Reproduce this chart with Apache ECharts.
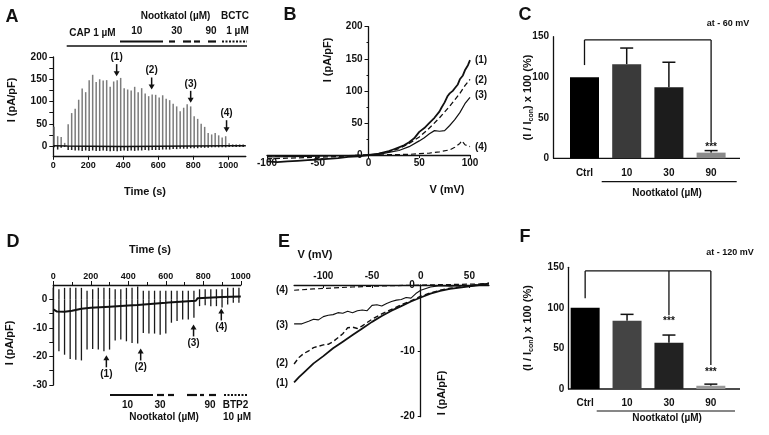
<!DOCTYPE html>
<html><head><meta charset="utf-8">
<script src="https://cdn.jsdelivr.net/npm/echarts@6/dist/echarts.min.js"></script>
<style>html,body{margin:0;padding:0;background:#fff}#c{width:769px;height:435px}</style>
</head><body><div id="c"></div>
<script>
const FONT = '"Liberation Sans", Arial, sans-serif';

// ---------- Panel A : TRPV1 current vs time ----------
const aTime = [5,25,45,65,85,105,125,145,165,185,205,225,245,265,285,305,325,345,365,385,405,425,445,465,485,505,525,545,565,585,605,625,645,665,685,705,725,745,765,785,805,825,845,865,885,905,925,945,965,985,1005,1025,1045,1065,1085];
const aPos = [43,22,20,7,49,74,84,104,129,121,148,160,144,150,147,148,133,145,148,153,130,127,125,133,121,130,118,112,116,115,109,114,106,103,95,89,78,86,94,89,67,61,50,43,29,26,29,24,19,22,6,4,4,4,4];
const aNeg = [-3,-8,-4,-2,-9,-9,-10,-10,-11,-10,-11,-10,-11,-11,-10,-11,-12,-11,-12,-11,-10,-11,-10,-11,-10,-10,-9,-10,-9,-9,-9,-8,-8,-8,-7,-7,-6,-6,-6,-5,-5,-5,-4,-4,-4,-3,-3,-3,-3,-3,-2,-2,-2,-2,-2];
const aBaseT = [0,80,200,400,600,800,1000,1100];
const aBaseI = [0.5,0,-0.5,-1,-0.5,0,0.5,0.5];
const aArrowT = [362,562,785,990];
const aArrowI = [157,127,97,31];
const arrowLabels = ['(1)','(2)','(3)','(4)'];
const aXTicks = [0,200,400,600,800,1000];
const aYTicks = [0,50,100,150,200];

// ---------- Panel B : I-V curves (TRPV1) ----------
const bV1 = [-100,-90,-80,-70,-60,-50,-40,-30,-20,-10,0,5,10,15,20,25,30,35,40,45,50,55,60,65,70,72,75,78,80,83,85,88,90,93,95,98,100];
const bI1 = [-10,-11,-10,-9,-8,-7,-6,-5,-3,-2,0,1,2,4,6,9,12,15,20,26,36,42,50,58,68,74,82,92,96,100,104,110,118,124,132,140,148];
const bV2 = [-100,-80,-60,-40,-20,0,10,20,30,40,50,60,70,80,90,95,100];
const bI2 = [-6,-5,-4,-3,-1.5,0,2,5,10,18,28,42,58,76,96,108,118];
const bV3 = [-100,-80,-60,-40,-20,0,10,20,30,40,50,55,60,65,70,75,80,85,90,95,100];
const bI3 = [-3,-2.5,-2,-1.5,-1,0,1,4,7,13,22,27,33,38,37,38,46,55,66,80,90];
const bV4 = [-100,-60,-20,0,20,40,50,60,70,80,85,90,92,95,100];
const bI4 = [-2,-1.5,-1,0,0.5,1,2,3,5,8,12,18,22,16,13];

// ---------- Panel C / F : normalized current ----------
const categories = ['Ctrl','10','30','90'];
const cMean = [100,116,87.5,7];
const cErr = [0,20,31,2.5];
const fMean = [100,84,57,4];
const fErr = [0,8,9.5,2];
const barColors = ['#000000','#3a3a3a','#1c1c1c','#8a8a8a'];
const fBarColors = ['#000000','#444444','#222222','#999999'];
// significance brackets (value levels)
const cBracketTop = 146, cCtrlStart = 115;
const cSigIdx = [3], cSigEnd = [20], cStarV = [14];
const fBracketTop = 145.5, fCtrlStart = 112;
const fSigIdx = [2,3], fSigEnd = [91,29.6], fStarV = [84,21];

// ---------- Panel D : Orai current vs time ----------
const dTime = [0,30,60,90,120,150,180,210,240,270,300,330,360,390,420,450,480,510,540,570,600,630,660,690,720,750,780,810,840,870,900,930,960,990];
const dBottom = [-15,-18.2,-19.4,-20.9,-21.2,-21.4,-17.6,-17.4,-17.6,-18.2,-17.6,-14.4,-14.1,-14.7,-15.3,-15.5,-11.8,-12,-12,-12.4,-12,-8.2,-7.6,-7.1,-7.1,-6.5,-2.4,-2.1,-2.4,-2.4,-2.9,-1.8,-1.2,-1.2];
const dTop = [4,3.5,4,4,4,4,3,3.5,4,4,4,3.5,3.5,4,4,4.5,3,3,3,3,3,3,3,3,3,3,3.5,3.5,3.5,3.5,3.5,4,4,4];
const dBaseT = [0,20,60,100,150,200,300,400,450,460,600,615,625,760,770,780,900,1000];
const dBaseI = [-3.5,-4.3,-4.4,-4.0,-3.3,-3.0,-2.6,-2.2,-2.0,-1.6,-1.2,-1.1,-0.8,-0.5,0.4,0.6,0.8,1.0];
const dArrowT = [283,466,748,896];
const dArrowI = [-19.6,-17.2,-8.8,-3.2];
const dYTicks = [-30,-20,-10,0];
const dYMinor = [-30,-25,-20,-15,-10,-5,0];

// ---------- Panel E : I-V curves (Orai) ----------
const eV1 = [-130,-125,-120,-110,-100,-90,-80,-70,-60,-50,-40,-30,-20,-10,0,10,20,30,40,50,60,70];
const eI1 = [-14.8,-14,-13.3,-11.9,-10.8,-9.6,-8.6,-7.6,-6.6,-5.6,-4.7,-3.9,-3.2,-2.5,-1.9,-1.3,-0.9,-0.6,-0.4,-0.2,0,0.2];
const eV2 = [-130,-125,-120,-115,-110,-105,-100,-95,-90,-85,-80,-75,-70,-65,-60,-50,-40,-30,-20,-10,0,10,20,30,40,50,60,70];
const eI2 = [-12,-11,-10.4,-10,-9.5,-9.3,-9.1,-9,-8.6,-8,-7.4,-6.5,-6.4,-6.6,-6.2,-5.2,-4.4,-3.7,-3,-2.4,-1.7,-1.2,-0.8,-0.5,-0.3,-0.1,0.1,0.3];
const eV3 = [-130,-122,-115,-110,-105,-100,-95,-90,-85,-80,-75,-70,-65,-60,-55,-50,-45,-40,-35,-30,-25,-20,-15,-10,-5,0,10,20,30,40,50,60,70];
const eI3 = [-5.9,-5.9,-5.5,-5.2,-5.3,-4.8,-4.6,-4.5,-4.2,-4.3,-4.0,-4.2,-3.9,-3.8,-3.9,-3.1,-3.0,-3.2,-2.8,-2.5,-2.3,-2.2,-1.9,-2.0,-1.3,-0.8,-0.3,-0.1,-0.2,-0.1,-0.2,0,0.2];
const eV4 = [-130,-110,-90,-70,-50,-30,-10,0,20,40,60,70];
const eI4 = [-0.8,-0.6,-0.45,-0.3,-0.2,-0.1,-0.05,0,0.05,0.1,0.15,0.2];
const eXTicks = [-100,-50,0,50];

// ================= helpers =================
const INK = '#111';
const plain = (v) => String(v);
const lbl = (size) => ({fontFamily: FONT, fontWeight: 'bold', fontSize: size, color: INK, formatter: plain});
const axLine = {show: true, onZero: false, lineStyle: {color: INK, width: 1.3}};
function txt(x, y, text, size, extra) {
  return Object.assign({type: 'text', x: x, y: y, silent: true,
    style: {text: text, font: 'bold ' + size + 'px ' + FONT, fill: INK, align: 'center', verticalAlign: 'middle'}}, extra || {});
}
function vtxt(x, y, text, size, rich) {
  const e = txt(x, y, text, size, {rotation: Math.PI / 2});
  if (rich) e.style.rich = rich;
  return e;
}
function ln(x1, y1, x2, y2, w, dash) {
  return {type: 'line', silent: true, shape: {x1, y1, x2, y2}, style: {stroke: INK, lineWidth: w, lineDash: dash || null}};
}
const pairs = (xs, ys) => xs.map((x, i) => [x, ys[i]]);
function lineSeries(ax, xs, ys, width, dashed) {
  return {type: 'line', xAxisIndex: ax, yAxisIndex: ax, data: pairs(xs, ys), symbol: 'none', clip: false, silent: true,
    lineStyle: {color: INK, width: width, type: dashed ? [5, 3] : 'solid'}};
}
function arrowSeries(ax, ts, vs, down) {
  return {type: 'custom', xAxisIndex: ax, yAxisIndex: ax, silent: true, data: pairs(ts, vs),
    renderItem: (params, api) => {
      const p = api.coord([api.value(0), api.value(1)]);
      const s = down ? -1 : 1;
      return {type: 'group', children: [
        {type: 'line', shape: {x1: p[0], y1: p[1] + s * 12, x2: p[0], y2: p[1] + s * 4}, style: {stroke: INK, lineWidth: 1.5}},
        {type: 'polygon', shape: {points: [[p[0] - 3, p[1] + s * 5], [p[0] + 3, p[1] + s * 5], [p[0], p[1]]]}, style: {fill: INK}},
        {type: 'text', x: p[0], y: p[1] + s * 19, style: {text: arrowLabels[params.dataIndex], font: 'bold 10px ' + FONT, fill: INK, align: 'center', verticalAlign: 'middle'}}
      ]};
    }};
}
function sweepSeries(ax, ts, tops, bots, posColor, negColor, w) {
  return {type: 'custom', xAxisIndex: ax, yAxisIndex: ax, silent: true,
    data: ts.map((t, i) => [t, tops[i], bots[i]]), encode: {x: 0, y: [1, 2]},
    renderItem: (params, api) => {
      const t = api.value(0);
      const p0 = api.coord([t, 0]), p1 = api.coord([t, api.value(1)]), p2 = api.coord([t, api.value(2)]);
      return {type: 'group', children: [
        {type: 'line', shape: {x1: p0[0], y1: p0[1], x2: p1[0], y2: p1[1]}, style: {stroke: posColor, lineWidth: w}},
        {type: 'line', shape: {x1: p0[0], y1: p0[1], x2: p2[0], y2: p2[1]}, style: {stroke: negColor, lineWidth: w}}
      ]};
    }};
}
function errSeries(ax, means, errs) {
  return {type: 'custom', xAxisIndex: ax, yAxisIndex: ax, silent: true, data: means.map((m, i) => [i, m, errs[i]]),
    renderItem: (params, api) => {
      const i = api.value(0), m = api.value(1), e = api.value(2);
      if (!e) return {type: 'group', children: []};
      const p0 = api.coord([i, m]), p1 = api.coord([i, m + e]);
      return {type: 'group', children: [
        {type: 'line', shape: {x1: p0[0], y1: p0[1], x2: p1[0], y2: p1[1]}, style: {stroke: INK, lineWidth: 1.5}},
        {type: 'line', shape: {x1: p1[0] - 6.5, y1: p1[1], x2: p1[0] + 6.5, y2: p1[1]}, style: {stroke: INK, lineWidth: 1.5}}
      ]};
    }};
}
function bracketSeries(ax, top, ctrlStart, idxs, ends, starV) {
  return {type: 'custom', xAxisIndex: ax, yAxisIndex: ax, silent: true, data: [[0, top]],
    renderItem: (params, api) => {
      const a = api.coord([0, ctrlStart]), b = api.coord([0, top]), c = api.coord([idxs[idxs.length - 1], top]);
      const ch = [
        {type: 'line', shape: {x1: a[0], y1: a[1], x2: b[0], y2: b[1]}, style: {stroke: INK, lineWidth: 1.3}},
        {type: 'line', shape: {x1: b[0], y1: b[1], x2: c[0], y2: c[1]}, style: {stroke: INK, lineWidth: 1.3}}
      ];
      idxs.forEach((k, j) => {
        const t = api.coord([k, top]), d = api.coord([k, ends[j]]), s = api.coord([k, starV[j]]);
        ch.push({type: 'line', shape: {x1: t[0], y1: t[1], x2: d[0], y2: d[1]}, style: {stroke: INK, lineWidth: 1.3}});
        ch.push({type: 'text', x: s[0], y: s[1], style: {text: '***', font: 'bold 10px ' + FONT, fill: INK, align: 'center', verticalAlign: 'middle'}});
      });
      return {type: 'group', children: ch};
    }};
}

// grid geometry for B and E (their y axes sit at V = 0)
const gB = {left: 267, top: 26.7, width: 203, height: 128.3};
const gE = {left: 294.1, top: 285, width: 194.8, height: 131.7};
const bZeroOffset = -(gB.width * (0 - (-100)) / 200);
const eZeroOffset = -(gE.width * (0 - (-130)) / 200);

// ================= option =================
const option = {
  animation: false,
  backgroundColor: '#ffffff',
  grid: [
    {left: 53.3, top: 57, width: 192.5, height: 98.8},       // A
    gB,                                                        // B
    {left: 563.4, top: 36.7, width: 168.8, height: 121.6},    // C
    {left: 53.3, top: 285, width: 187.5, height: 100},        // D
    gE,                                                        // E
    {left: 564.2, top: 267.3, width: 167.6, height: 121.7}    // F
  ],
  xAxis: [
    {gridIndex: 0, type: 'value', min: 0, max: 1100, axisLine: axLine,
      axisTick: {customValues: aXTicks, length: 4, lineStyle: {color: INK}}, splitLine: {show: false},
      axisLabel: Object.assign(lbl(9), {customValues: aXTicks, margin: 5})},
    {gridIndex: 1, type: 'value', min: -100, max: 100, interval: 50, axisLine: axLine,
      axisTick: {length: 3, lineStyle: {color: INK}}, splitLine: {show: false},
      axisLabel: Object.assign(lbl(10), {margin: 3})},
    {gridIndex: 2, type: 'category', data: categories, axisLine: {show: false}, axisTick: {show: false},
      axisLabel: Object.assign(lbl(10), {margin: 10})},
    {gridIndex: 3, type: 'value', position: 'top', min: 0, max: 1000, interval: 200, axisLine: axLine,
      axisTick: {length: 4, lineStyle: {color: INK}}, minorTick: {show: true, splitNumber: 2, length: 3, lineStyle: {color: INK}},
      splitLine: {show: false}, axisLabel: Object.assign(lbl(9), {margin: 4})},
    {gridIndex: 4, type: 'value', position: 'top', min: -130, max: 70, axisLine: axLine,
      axisTick: {customValues: eXTicks, length: 3, inside: true, lineStyle: {color: INK}}, splitLine: {show: false},
      axisLabel: Object.assign(lbl(10), {customValues: eXTicks, margin: 4})},
    {gridIndex: 5, type: 'category', data: categories, axisLine: {show: false}, axisTick: {show: false},
      axisLabel: Object.assign(lbl(10), {margin: 9})}
  ],
  yAxis: [
    {gridIndex: 0, type: 'value', min: -22, max: 200, axisLine: axLine,
      axisTick: {customValues: [0,25,50,75,100,125,150,175,200], length: 4, lineStyle: {color: INK}}, splitLine: {show: false},
      axisLabel: Object.assign(lbl(10), {customValues: aYTicks, margin: 6})},
    {gridIndex: 1, type: 'value', min: 0, max: 200, interval: 50, offset: bZeroOffset, axisLine: axLine,
      axisTick: {length: 4, lineStyle: {color: INK}}, minorTick: {show: true, splitNumber: 2, length: 2, lineStyle: {color: INK}},
      splitLine: {show: false}, axisLabel: Object.assign(lbl(10), {margin: 6})},
    {gridIndex: 2, type: 'value', min: 0, max: 150, interval: 50, offset: 10.4, axisLine: axLine,
      axisTick: {length: 4, lineStyle: {color: INK}}, splitLine: {show: false}, axisLabel: Object.assign(lbl(10), {margin: 4})},
    {gridIndex: 3, type: 'value', min: -30, max: 5, axisLine: axLine,
      axisTick: {customValues: dYMinor, length: 4, lineStyle: {color: INK}}, splitLine: {show: false},
      axisLabel: Object.assign(lbl(10), {customValues: dYTicks, margin: 6})},
    {gridIndex: 4, type: 'value', min: -20, max: 0, interval: 10, offset: eZeroOffset, axisLine: axLine,
      axisTick: {length: 3, lineStyle: {color: INK}}, splitLine: {show: false}, axisLabel: Object.assign(lbl(10), {margin: 6})},
    {gridIndex: 5, type: 'value', min: 0, max: 150, interval: 50, offset: -4.1, axisLine: axLine,
      axisTick: {length: 4, lineStyle: {color: INK}}, splitLine: {show: false}, axisLabel: Object.assign(lbl(10), {margin: 4})}
  ],
  series: [
    // A
    sweepSeries(0, aTime, aPos, aNeg, '#7c7c7c', '#222', 1.5),
    {type: 'line', xAxisIndex: 0, yAxisIndex: 0, data: pairs(aBaseT, aBaseI), symbol: 'none', silent: true, lineStyle: {color: INK, width: 1.6}},
    arrowSeries(0, aArrowT, aArrowI, true),
    // B
    lineSeries(1, bV1, bI1, 1.8, false),
    lineSeries(1, bV2, bI2, 1.3, true),
    lineSeries(1, bV3, bI3, 1.2, false),
    lineSeries(1, bV4, bI4, 1.2, true),
    // C
    {type: 'bar', xAxisIndex: 2, yAxisIndex: 2, barWidth: 29, silent: true,
      data: cMean.map((v, i) => ({value: v, itemStyle: {color: barColors[i]}}))},
    errSeries(2, cMean, cErr),
    bracketSeries(2, cBracketTop, cCtrlStart, cSigIdx, cSigEnd, cStarV),
    // D
    sweepSeries(3, dTime, dTop, dBottom, '#1a1a1a', '#1a1a1a', 1.3),
    {type: 'line', xAxisIndex: 3, yAxisIndex: 3, data: pairs(dBaseT, dBaseI), symbol: 'none', silent: true, lineStyle: {color: INK, width: 2}},
    arrowSeries(3, dArrowT, dArrowI, false),
    // E
    lineSeries(4, eV1, eI1, 1.8, false),
    lineSeries(4, eV2, eI2, 1.4, true),
    lineSeries(4, eV3, eI3, 1.1, false),
    lineSeries(4, eV4, eI4, 1.2, true),
    // F
    {type: 'bar', xAxisIndex: 5, yAxisIndex: 5, barWidth: 29, silent: true,
      data: fMean.map((v, i) => ({value: v, itemStyle: {color: fBarColors[i]}}))},
    errSeries(5, fMean, fErr),
    bracketSeries(5, fBracketTop, fCtrlStart, fSigIdx, fSigEnd, fStarV)
  ],
  graphic: [
    // panel letters
    txt(12, 17, 'A', 18), txt(290, 15, 'B', 18), txt(525, 15, 'C', 18),
    txt(13, 242, 'D', 18), txt(284, 242, 'E', 18), txt(525, 237, 'F', 18),
    // A annotations
    txt(175.5, 16.5, 'Nootkatol (\u00B5M)', 10), txt(235, 16.5, 'BCTC', 10),
    txt(92.5, 33, 'CAP 1 \u00B5M', 10), txt(136.7, 31.7, '10', 10), txt(176.7, 31.7, '30', 10),
    txt(211, 31.7, '90', 10), txt(237.5, 31.7, '1 \u00B5M', 10),
    ln(66.7, 46, 247, 46, 1.5),
    ln(120, 41.5, 163, 41.5, 2.2), ln(169, 41.5, 175, 41.5, 2.2), ln(183, 41.5, 191, 41.5, 2.2),
    ln(194, 41.5, 200, 41.5, 2.2), ln(208, 41.5, 216, 41.5, 2.2),
    ln(222, 41.5, 247, 41.5, 2, [2, 1.5]),
    txt(145, 192, 'Time (s)', 11), vtxt(12, 100, 'I (pA/pF)', 11),
    // B
    txt(447, 190, 'V (mV)', 11), vtxt(328, 60, 'I (pA/pF)', 11),
    txt(481, 60, '(1)', 10), txt(481, 80, '(2)', 10), txt(481, 95, '(3)', 10), txt(481, 147, '(4)', 10),
    // C
    ln(553, 158.3, 740, 158.3, 1.3),
    ln(601.7, 181.7, 736.7, 181.7, 1.2),
    txt(667, 193, 'Nootkatol (\u00B5M)', 10), txt(728, 24, 'at - 60 mV', 9),
    vtxt(528.3, 97.5, '(I / I{s|con}) x 100 (%)', 11, {s: {font: 'bold 7px ' + FONT, fill: INK, padding: [5, 0, 0, 0]}}),
    // D
    txt(150, 250, 'Time (s)', 11), vtxt(10, 343, 'I (pA/pF)', 11),
    ln(110, 395, 153, 395, 2.2), ln(157, 395, 164, 395, 2.2), ln(168, 395, 174, 395, 2.2),
    ln(187, 395, 197, 395, 2.2), ln(200, 395, 204, 395, 2.2), ln(209, 395, 216, 395, 2.2),
    ln(224, 395, 247, 395, 2, [2, 1.5]),
    txt(127.5, 405, '10', 10), txt(160, 405, '30', 10), txt(210, 405, '90', 10), txt(235.5, 405, 'BTP2', 10),
    txt(164, 417, 'Nootkatol (\u00B5M)', 10), txt(237, 417, '10 \u00B5M', 10),
    // E
    txt(315, 255, 'V (mV)', 11), vtxt(441.7, 393, 'I (pA/pF)', 11),
    txt(282, 290, '(4)', 10), txt(282, 325, '(3)', 10), txt(282, 363, '(2)', 10), txt(282, 383, '(1)', 10),
    // F
    ln(568.3, 389, 740, 389, 1.3),
    ln(596.7, 411, 735, 411, 1.2),
    txt(667, 418.5, 'Nootkatol (\u00B5M)', 10), txt(730, 253, 'at - 120 mV', 9),
    vtxt(528.3, 328, '(I / I{s|con}) x 100 (%)', 11, {s: {font: 'bold 7px ' + FONT, fill: INK, padding: [5, 0, 0, 0]}})
  ]
};
const chart = echarts.init(document.getElementById('c'), null, {renderer: 'canvas'});
chart.setOption(option);
</script>
</body></html>
